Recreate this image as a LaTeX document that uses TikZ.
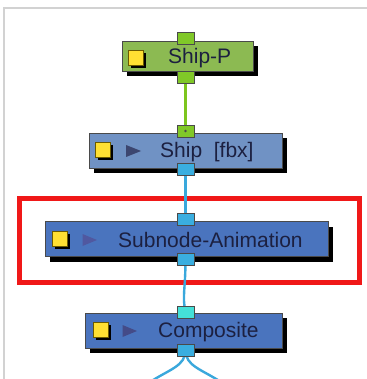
\documentclass[tikz,border=0pt]{standalone}
\usepackage{fontspec}
\setmainfont{Liberation Sans}
\definecolor{framegray}{HTML}{D2D2D2}
\definecolor{shipgreen}{HTML}{8CBA52}
\definecolor{portgreen}{HTML}{80C828}
\definecolor{linegreen}{HTML}{7DC51E}
\definecolor{greyblue}{HTML}{7092C4}
\definecolor{nodeblue}{HTML}{4A74BE}
\definecolor{portblue}{HTML}{3AAEE0}
\definecolor{lineblue}{HTML}{3AA8DC}
\definecolor{portcyan}{HTML}{44E0D8}
\definecolor{hilite}{HTML}{F01818}
\definecolor{txt}{HTML}{1C2040}
\definecolor{yel}{HTML}{FFE033}
\definecolor{yelborder}{HTML}{6B5A00}
\definecolor{boxedge}{HTML}{4A4A4A}
\definecolor{tri}{HTML}{3C4670}
\definecolor{trifade}{HTML}{5058A0}
\pgfdeclarelayer{bg}
\pgfdeclarelayer{wires}
\pgfsetlayers{bg,wires,main}
\begin{document}
\begin{tikzpicture}[x=1pt,y=-1pt,
  nodebox/.style={draw=boxedge,line width=0.8pt,inner sep=0pt,minimum width=#1,minimum height=35pt},
  shadowbox/.style={fill=black,draw=none,inner sep=0pt,minimum width=#1,minimum height=35pt},
  port/.style={draw=boxedge,line width=0.6pt,inner sep=0pt,minimum width=17pt,minimum height=12pt},
  yelsq/.style={fill=yel,draw=yelborder,line width=0.8pt,inner sep=0pt,minimum size=15pt},
  yelshadow/.style={fill=black,inner sep=0pt,minimum size=15pt},
  label/.style={anchor=west,inner sep=0pt,text=txt,font=\fontsize{21}{21}\selectfont},
  wire/.style={line width=2.4pt}]
\useasboundingbox (0,0) rectangle (366,379);
\begin{pgfonlayer}{bg}
\fill[white] (0,0) rectangle (366,379);
\draw[framegray,line width=2pt] (4,380) -- (4,8) -- (367,8);
\draw[hilite,line width=5pt] (19,198) rectangle (359,282);
\end{pgfonlayer}

% shadows
\node[shadowbox=131pt,minimum height=30pt] at (192.5,61) {};
\node[shadowbox=193pt] at (190.5,155.5) {};
\node[shadowbox=283pt] at (191.5,244) {};
\node[shadowbox=197pt] at (188.5,335.5) {};

% boxes
\node[nodebox=131pt,minimum height=30pt,fill=shipgreen] (shipp) at (187.5,56) {};
\node[nodebox=193pt,fill=greyblue] (ship) at (185.5,150.5) {};
\node[nodebox=283pt,fill=nodeblue] (sub) at (186.5,239) {};
\node[nodebox=197pt,fill=nodeblue] (comp) at (183.5,330.5) {};

% ports
\node[port,fill=portgreen] (pt1) at (185.5,38.5) {};
\node[port,fill=portgreen] (pb1) at (185.5,77) {};
\node[port,fill=portgreen] (pt2) at (185.5,131) {};
\node[port,fill=portblue] (pb2) at (185.5,169) {};
\node[port,fill=portblue] (pt3) at (185.5,219.5) {};
\node[port,fill=portblue] (pb3) at (185.5,259) {};
\node[port,fill=portcyan] (pt4) at (185.5,312.5) {};
\node[port,fill=portblue] (pb4) at (185.5,350) {};
\fill[boxedge] (pt2.center) circle (1.3pt);
\coordinate (endL) at (150,382);
\coordinate (endR) at (221,382);

% connectors
\begin{pgfonlayer}{wires}
\draw[wire,linegreen] (pb1.center) -- (pt2.center);
\draw[wire,lineblue] (pb2.center) -- (pt3.center);
\draw[wire,lineblue] (pb3.center) .. controls (185.5,290) and (182,295) .. (pt4.center);
\draw[wire,lineblue] (pb4.center) .. controls (185.5,366) and (170,369) .. (endL);
\draw[wire,lineblue] (pb4.center) .. controls (185.5,366) and (201,369) .. (endR);
\end{pgfonlayer}

% yellow squares
\node[yelshadow] at (138.5,61) {};
\node[yelsq] (y1) at (135.5,58) {};
\node[yelshadow] at (105.5,153) {};
\node[yelsq] (y2) at (102.5,150) {};
\node[yelshadow] at (62.5,241.5) {};
\node[yelsq] (y3) at (59.5,238.5) {};
\node[yelshadow] at (103.5,332.5) {};
\node[yelsq] (y4) at (100.5,329.5) {};

% play triangles
\fill[tri] (126,145) -- (141,151) -- (126,157) -- cycle;
\fill[trifade] (82.5,234) -- (97,240) -- (82.5,246) -- cycle;
\fill[trifade!85!black] (122.5,325) -- (137,331) -- (122.5,337) -- cycle;

% labels
\node[label] (l1) at (168,58) {Ship-P};
\node[label] (l2) at (160,152) {Ship\ \ [fbx]};
\node[label] (l3) at (118,240) {Subnode-Animation};
\node[label] (l4) at (158,332) {Composite};
\end{tikzpicture}
\end{document}
